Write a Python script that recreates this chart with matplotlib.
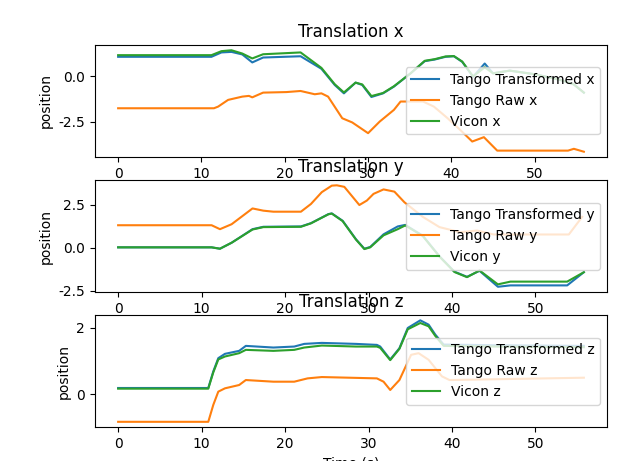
import matplotlib
matplotlib.use("Agg")
import matplotlib.pyplot as plt
from matplotlib.ticker import MultipleLocator, FormatStrFormatter

# --- Translation x ---------------------------------------------------------
tx_t = [0, 11.2, 12.4, 13.6, 14.9, 16.1, 17.4, 21.9, 24.4, 26.0, 27.1, 28.5, 29.3,
        30.4, 31.8, 33.1, 35.1, 36.8, 38.0, 39.3, 40.3, 41.3, 42.6, 44.0, 45.0,
        47.0, 50.0, 53.0, 54.7, 55.9]
tx_trans = [1.06, 1.06, 1.30, 1.33, 1.19, 0.75, 1.02, 1.09, 0.40, -0.49, -0.95, -0.36,
            -0.49, -1.15, -0.95, -0.58, 0.15, 0.82, 0.91, 1.06, 1.09, 0.78, -0.04,
            0.69, 0.15, 0.30, 0.10, -0.20, -0.46, -0.91]
tx_vicon = [1.15, 1.15, 1.37, 1.42, 1.24, 0.97, 1.20, 1.30, 0.45, -0.45, -0.90, -0.36,
            -0.46, -1.10, -0.93, -0.56, 0.15, 0.84, 0.93, 1.08, 1.10, 0.80, -0.02,
            0.48, 0.15, 0.30, 0.10, -0.20, -0.46, -0.91]
rx_t = [0, 11.5, 12.0, 13.2, 14.9, 15.7, 16.1, 17.4, 20.2, 21.9, 23.6, 24.4, 25.2,
        26.9, 28.1, 30.0, 31.4, 33.1, 33.9, 36.6, 37.9, 39.5, 41.1, 42.5, 43.9,
        45.5, 54.0, 54.7, 55.9]
rx_raw = [-1.77, -1.77, -1.68, -1.31, -1.13, -1.09, -1.17, -0.91, -0.88, -0.82, -1.00,
          -0.95, -1.13, -2.32, -2.55, -3.14, -2.50, -1.86, -1.40, -1.40, -1.68, -2.30,
          -2.98, -3.60, -3.36, -4.10, -4.10, -4.00, -4.16]

# --- Translation y ---------------------------------------------------------
ty_t = [0, 11.2, 12.2, 13.6, 16.1, 17.4, 21.9, 23.1, 25.2, 25.6, 26.9, 28.5, 29.5,
        30.2, 31.8, 33.5, 34.4, 36.5, 38.5, 40.3, 41.8, 43.3, 45.5, 47.0, 53.8, 55.8]
ty_trans = [0.02, 0.02, -0.06, 0.29, 1.08, 1.22, 1.24, 1.43, 1.96, 2.00, 1.57, 0.49,
            -0.06, 0.04, 0.78, 1.24, 1.33, 0.70, -0.50, -1.40, -1.70, -1.35, -2.28,
            -2.20, -2.20, -1.43]
ty_vicon = [0.02, 0.02, -0.06, 0.29, 1.06, 1.20, 1.22, 1.42, 1.95, 1.99, 1.55, 0.47,
            -0.08, 0.02, 0.72, 1.08, 1.30, 0.68, -0.52, -1.42, -1.72, -1.33, -2.14,
            -1.98, -1.98, -1.43]
ry_t = [0, 11.2, 12.2, 13.6, 16.1, 17.4, 18.6, 21.9, 23.1, 24.4, 25.6, 26.2, 27.1,
        28.9, 29.8, 30.6, 31.8, 33.1, 34.3, 36.5, 38.5, 41.0, 43.0, 45.0, 54.0, 55.6]
ry_raw = [1.31, 1.31, 1.08, 1.37, 2.29, 2.16, 2.10, 2.10, 2.55, 3.24, 3.62, 3.64, 3.55,
          2.49, 2.75, 3.14, 3.40, 3.27, 2.65, 1.80, 1.20, 0.90, 1.00, 0.77, 0.77, 1.80]

# --- Translation z ---------------------------------------------------------
tz_t = [0, 10.8, 11.4, 12.0, 12.8, 14.5, 15.3, 18.6, 21.1, 22.3, 24.4, 28.5, 31.0,
        31.4, 32.6, 33.7, 34.7, 36.2, 37.2, 38.0, 39.0, 45.0, 55.8]
tz_trans = [0.19, 0.19, 0.69, 1.09, 1.22, 1.31, 1.46, 1.41, 1.44, 1.52, 1.55, 1.52,
            1.49, 1.44, 1.05, 1.39, 2.00, 2.23, 2.10, 1.80, 1.50, 1.48, 1.46]
tz_vicon = [0.17, 0.17, 0.66, 1.05, 1.14, 1.24, 1.34, 1.31, 1.34, 1.41, 1.47, 1.44,
            1.44, 1.40, 1.03, 1.37, 1.96, 2.15, 2.05, 1.76, 1.46, 1.44, 1.42]
rz_t = [0, 10.8, 11.4, 12.0, 12.8, 14.5, 15.3, 18.6, 21.1, 22.7, 24.4, 31.0, 31.8,
        32.6, 33.7, 35.1, 36.0, 37.2, 38.8, 39.7, 55.8]
rz_raw = [-0.83, -0.83, -0.32, 0.08, 0.18, 0.28, 0.43, 0.38, 0.38, 0.48, 0.52, 0.48,
          0.38, 0.13, 0.43, 1.19, 1.24, 1.04, 0.54, 0.43, 0.50]

panels = [
    ("x", tx_t, tx_trans, rx_t, rx_raw, tx_t, tx_vicon),
    ("y", ty_t, ty_trans, ry_t, ry_raw, ty_t, ty_vicon),
    ("z", tz_t, tz_trans, rz_t, rz_raw, tz_t, tz_vicon),
]
# the old matplotlib this came from used sparse y ticks
ytick_step = [2.5, 2.5, 2]
ytick_fmt = ["%.1f", "%.1f", "%d"]

fig, axes = plt.subplots(3, 1, figsize=(6.24, 4.61), dpi=100)
fig.subplots_adjust(left=0.152, right=0.973, top=0.902, bottom=0.074, hspace=0.21)

for ax, (axis, t1, v1, t2, v2, t3, v3), step, fmt in zip(axes, panels, ytick_step, ytick_fmt):
    ax.plot(t1, v1, label=f"Tango Transformed {axis}")
    ax.plot(t2, v2, label=f"Tango Raw {axis}")
    ax.plot(t3, v3, label=f"Vicon {axis}")
    ax.set_title(f"Translation {axis}")
    ax.set_ylabel("position")
    ax.yaxis.set_major_locator(MultipleLocator(step))
    ax.yaxis.set_major_formatter(FormatStrFormatter(fmt))
    ax.legend(loc="center right")

axes[-1].set_xlabel("Time (s)")

fig.savefig("out.png", dpi=100)
